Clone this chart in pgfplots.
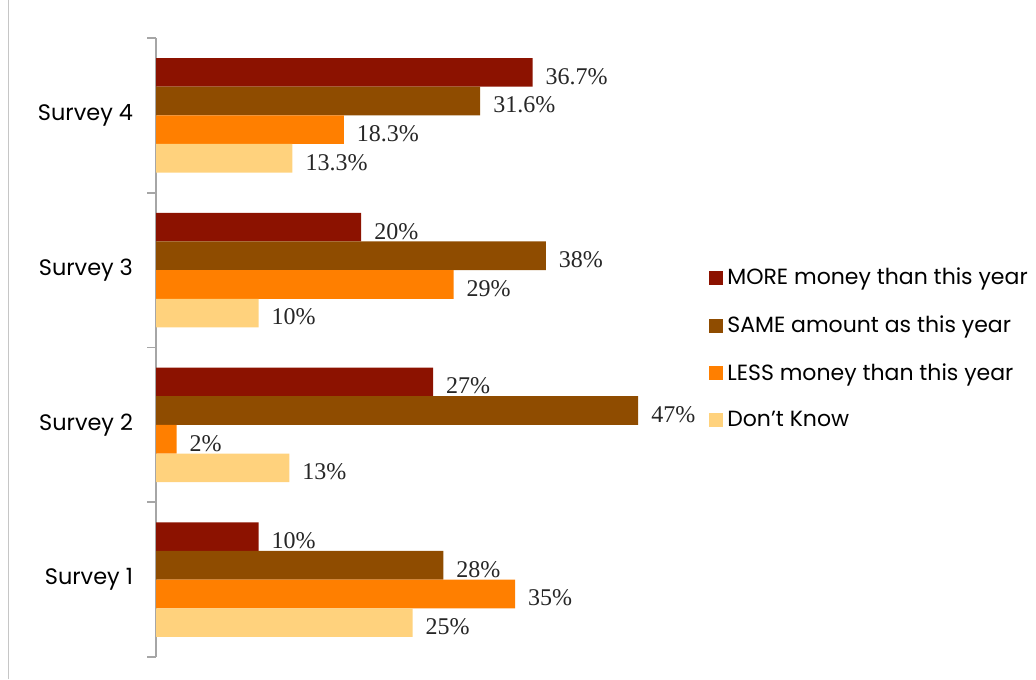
\documentclass[border=0pt]{standalone}
\usepackage{fontspec}
\setmainfont{Poppins}
\newfontfamily\labelfont{Liberation Serif}
\usepackage{pgfplots}
\pgfplotsset{compat=1.18}
\definecolor{cMore}{RGB}{140,18,0}
\definecolor{cSame}{RGB}{143,76,0}
\definecolor{cLess}{RGB}{255,127,0}
\definecolor{cDK}{RGB}{255,210,125}
\begin{document}
\begin{tikzpicture}
\useasboundingbox (0,0) rectangle (518pt,339.5pt);
\draw[gray!45, line width=0.5pt] (4pt,0) -- (4pt,339.5pt);
\begin{axis}[
  at={(78pt,11pt)}, anchor=south west,
  scale only axis, width=256.5pt, height=309.5pt,
  xmin=0, xmax=50, ymin=0.5, ymax=4.5,
  axis x line=none,
  axis y line*=left,
  y axis line style={gray!70, line width=0.8pt, -},
  ytick={1,2,3,4},
  yticklabels={Survey 1,Survey 2,Survey 3,Survey 4},
  major tick length=0pt,
  extra y ticks={0.5,1.5,2.5,3.5,4.5},
  extra y tick labels={},
  extra y tick style={major tick length=4.5pt, tick align=outside, tick style={gray!70, line width=0.8pt}},
  yticklabel style={font=\fontsize{11.2pt}{13pt}\selectfont, xshift=-8pt},
  xbar, bar width=0.185,
  every axis plot/.append style={draw=none},
  nodes near coords={\pgfmathprintnumber[fixed,precision=1,assume math mode=true]{\pgfplotspointmeta}\%},
  every node near coord/.append style={font=\labelfont\fontsize{12pt}{14pt}\selectfont, anchor=west, xshift=3pt, yshift=-2pt, text=black!85},
  legend style={at={(1.074,0.498)}, anchor=west, draw=none, fill=none,
    font=\fontsize{11pt}{13pt}\selectfont, row sep=9.9pt,
    cells={anchor=west}, inner xsep=1pt},
  legend image code/.code={\fill[#1] (0pt,-3.5pt) rectangle (7pt,3.5pt);},
  clip=false,
]
\addplot[fill=cMore, bar shift=0.2775] coordinates {(10,1) (27,2) (20,3) (36.7,4)};
\addplot[fill=cSame, bar shift=0.0925] coordinates {(28,1) (47,2) (38,3) (31.6,4)};
\addplot[fill=cLess, bar shift=-0.0925] coordinates {(35,1) (2,2) (29,3) (18.3,4)};
\addplot[fill=cDK, bar shift=-0.2775] coordinates {(25,1) (13,2) (10,3) (13.3,4)};
\legend{MORE money than this year, SAME amount as this year, LESS money than this year, Don't Know}
\end{axis}
\end{tikzpicture}
\end{document}
